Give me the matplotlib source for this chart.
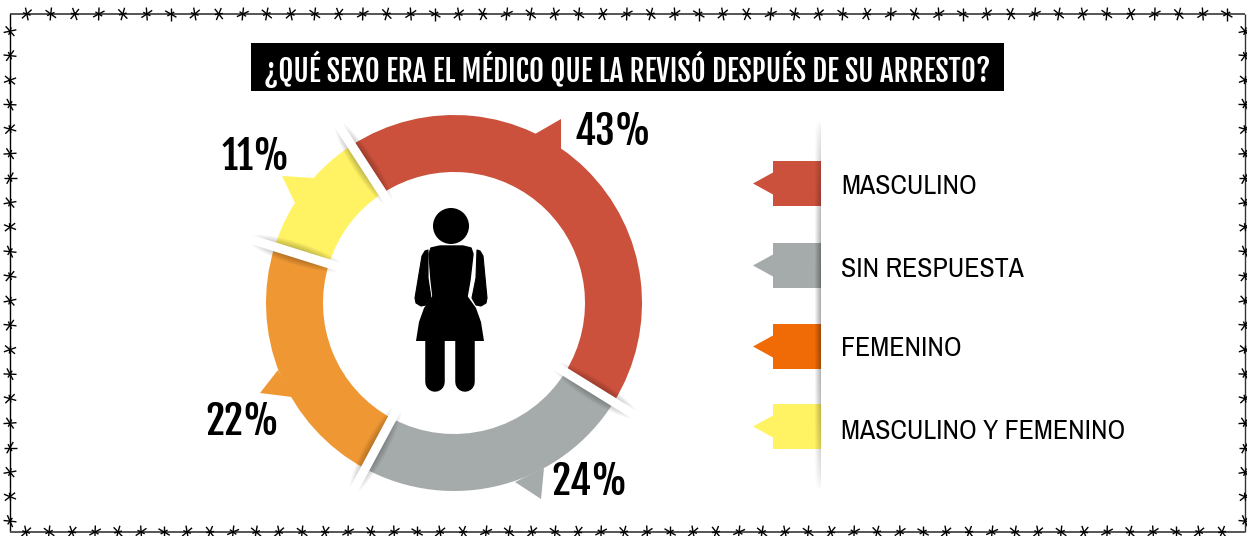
import numpy as np
import matplotlib
matplotlib.use("Agg")
from matplotlib import pyplot as plt
from matplotlib.collections import LineCollection
from matplotlib.patches import Circle, Ellipse, Polygon, Rectangle

title_font = ['Fjalla One', 'Oswald', 'Roboto Condensed', 'DejaVu Sans']
legend_font = ['Archivo Narrow', 'Pathway Gothic One', 'Roboto Condensed', 'DejaVu Sans']

title = "¿QUÉ SEXO ERA EL MÉDICO QUE LA REVISÓ DESPUÉS DE SU ARRESTO?"
categories = ["MASCULINO", "SIN RESPUESTA", "FEMENINO", "MASCULINO Y FEMENINO"]
values = [43, 24, 22, 11]
ring_colors = ['#CB513C', '#A5AAAB', '#EE9733', '#FFF263']
legend_colors = ['#CB513C', '#A5AAAB', '#F06A06', '#FFF263']
labels = ["43%", "24%", "22%", "11%"]

cx, cy = 454, 303
r_out, r_in = 188, 131
start = -33  # degrees clockwise from the top


def draw_wire(ax, x0, y0, x1, y1, step, lw, color):
    ax.plot([x0, x1], [y0, y1], color=color, lw=lw, zorder=1, solid_capstyle='butt')
    length = np.hypot(x1 - x0, y1 - y0)
    ux, uy = (x1 - x0) / length, (y1 - y0) / length
    turns = [18, -24, 10, 32, -14, 26, -30, 20, -8, 36, -20]
    segs = []
    for i, d in enumerate(np.arange(step * 0.7, length - 5, step)):
        px, py = x0 + ux * d, y0 + uy * d
        base = np.degrees(np.arctan2(uy, ux)) + turns[i % len(turns)]
        for a in (base + 60, base - 60):
            dx, dy = np.cos(np.radians(a)) * 6.5, np.sin(np.radians(a)) * 6.5
            segs.append([(px - dx, py - dy), (px + dx, py + dy)])
        dx, dy = np.cos(np.radians(base)) * 4, np.sin(np.radians(base)) * 4
        segs.append([(px - dx, py - dy), (px + dx, py + dy)])
    ax.add_collection(LineCollection(segs, colors='black', linewidths=1.0, zorder=2))


fig = plt.figure(figsize=(12.47, 5.36), dpi=100, facecolor='white')
ax = fig.add_axes([0, 0, 1, 1])

# pixel coordinates, y pointing down, so the pie runs clockwise on screen
ax.pie(values, colors=ring_colors, center=(cx, cy), radius=r_out, counterclock=True,
       startangle=start - 90, wedgeprops=dict(width=r_out - r_in, linewidth=0))

# tabs on the ring
tabs = [[(535, 134), (561, 119), (561, 150)],
        [(515, 482), (541, 499), (544, 468)],
        [(278, 370), (260, 393), (292, 397)],
        [(314, 178), (282, 176), (295, 203)]]
for tab, color in zip(tabs, ring_colors):
    ax.add_patch(Polygon(tab, closed=True, facecolor=color, edgecolor='none', zorder=2))

# separators between slices: soft shadow and a white cut
angles = start + np.cumsum(values) * 360 / sum(values)
for ang in angles:
    rad = np.radians(ang)
    ux, uy = np.sin(rad), -np.cos(rad)
    mx, my = cx + ux * 166, cy + uy * 166
    rot = np.degrees(np.arctan2(uy, ux))
    for k in range(7):
        ax.add_patch(Ellipse((mx, my), 100 - k * 7, 22 - k * 2.4, angle=rot,
                             facecolor='black', edgecolor='none', alpha=0.045, zorder=3))
    ax.plot([cx + ux * 118, cx + ux * 214], [cy + uy * 118, cy + uy * 214],
            color='white', lw=6.5, solid_capstyle='round', zorder=4)

# title bar
ax.add_patch(Rectangle((251, 43), 753, 48, facecolor='black', edgecolor='none', zorder=2))
ax.text(627.5, 81.5, title, color='white', fontsize=21, family=title_font,
        ha='center', va='baseline', zorder=3)

# percentages
label_pos = [(612.5, 145), (589.5, 495), (242, 435), (256, 170)]
for (x, y), s in zip(label_pos, labels):
    ax.text(x, y, s, color='black', fontsize=28.5, family=title_font,
            ha='center', va='baseline')

# woman icon
ax.add_patch(Circle((451, 226), 18, facecolor='black', edgecolor='none'))
torso = [(431, 248), (440, 246), (463, 246), (471, 248), (473, 254), (470, 280), (467, 297), (433, 297), (431, 280), (429, 254)]
ax.add_patch(Polygon(torso, closed=True, facecolor='black', edgecolor='black', lw=1, joinstyle='round'))
skirt = [(434, 294), (466, 294), (476, 308), (481, 322), (484, 341), (416, 341), (419, 322), (424, 308)]
ax.add_patch(Polygon(skirt, closed=True, facecolor='black', edgecolor='none'))
for x in (434.5, 464.5):
    ax.plot([x, x], [340, 382], color='black', lw=19.5 * 0.72, solid_capstyle='round')
left_arm = [(425, 251), (428, 250), (428, 278), (431, 298), (426, 305), (421, 306), (416, 303), (415, 298), (422, 256)]
right_arm = [(477, 250), (480, 251), (483, 256), (487, 298), (486, 303), (481, 306), (476, 305), (472, 298), (476, 278)]
for arm in (left_arm, right_arm):
    ax.add_patch(Polygon(arm, closed=True, facecolor='black', edgecolor='black', lw=0.8, joinstyle='round'))

# legend
legend_y = [183.5, 265.5, 346.5, 426.5]
legend_base = [194, 277, 356, 439]
for y, base, color, name in zip(legend_y, legend_base, legend_colors, categories):
    shape = [(821, y - 22.5), (773, y - 22.5), (773, y - 11), (753, y), (773, y + 11),
             (773, y + 22.5), (821, y + 22.5)]
    ax.add_patch(Polygon(shape, closed=True, facecolor=color, edgecolor='none', zorder=2))
    ax.text(841, base, name, color='black', fontsize=20, family=legend_font,
            ha='left', va='baseline', zorder=3)

# fading rule beside the legend
ny = 200
fade = np.sin(np.linspace(0, np.pi, ny))[:, None] ** 0.6
ramp = np.linspace(0, 0.32, 7)[None, :]
shade = np.zeros((ny, 7, 4))
shade[..., 3] = fade * ramp
ax.imshow(shade, extent=(814, 821, 490, 120), aspect='auto', zorder=5, interpolation='bilinear')

# barbed wire frame
draw_wire(ax, 10, 14, 1245, 14, 24, 1.4, '#555555')
draw_wire(ax, 10, 14, 10, 532, 24.5, 1.0, 'black')
draw_wire(ax, 1245, 14, 1245, 532, 24.5, 1.0, '#333333')
draw_wire(ax, 10, 532, 1245, 532, 23, 1.4, '#555555')

ax.set_aspect('equal')
ax.set_xlim(0, 1247)
ax.set_ylim(536, 0)
ax.axis('off')

fig.savefig('out.png', dpi=100)
plt.close(fig)
